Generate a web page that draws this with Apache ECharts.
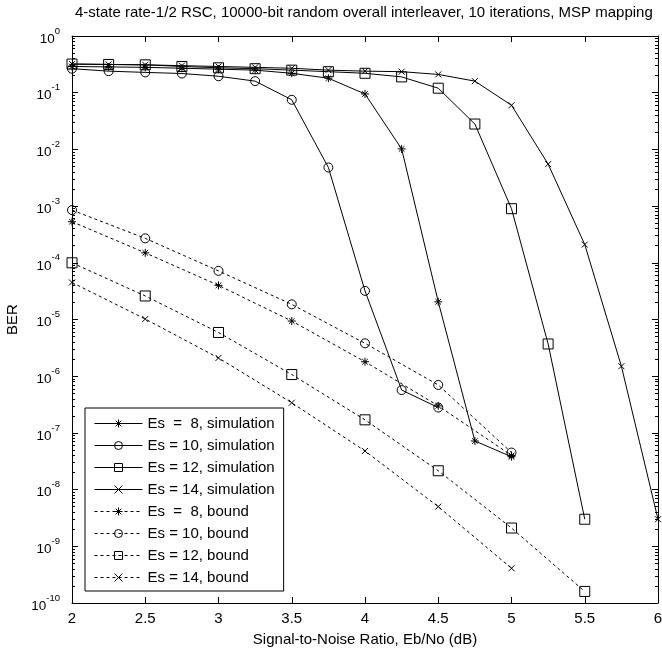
<!DOCTYPE html>
<html>
<head>
<meta charset="utf-8">
<script src="https://cdn.jsdelivr.net/npm/echarts@6/dist/echarts.min.js"></script>
<style>
  html, body { margin: 0; padding: 0; background: #fff; }
  #chart { width: 662px; height: 648px; }
</style>
</head>
<body>
<div id="chart"></div>
<script>
// Eb/No points (dB)
const snrSim8 = [2, 2.25, 2.5, 2.75, 3, 3.25, 3.5, 3.75, 4, 4.25, 4.5, 4.75, 5];
const snrSim10 = [2, 2.25, 2.5, 2.75, 3, 3.25, 3.5, 3.75, 4, 4.25, 4.5];
const snrSim12 = [2, 2.25, 2.5, 2.75, 3, 3.25, 3.5, 3.75, 4, 4.25, 4.5, 4.75, 5, 5.25, 5.5];
const snrSim14 = [2, 2.25, 2.5, 2.75, 3, 3.25, 3.5, 3.75, 4, 4.25, 4.5, 4.75, 5, 5.25, 5.5, 5.75, 6];
const snrBound = [2, 2.5, 3, 3.5, 4, 4.5, 5, 5.5];

// BER, simulation
const berSim8 = [0.29, 0.285, 0.28, 0.27, 0.26, 0.25, 0.22, 0.18, 0.095, 0.0102, 2.05e-5, 7.2e-8, 3.8e-8];
const berSim10 = [0.265, 0.24, 0.228, 0.218, 0.195, 0.16, 0.075, 4.8e-3, 3.2e-5, 5.7e-7, 2.8e-7];
const berSim12 = [0.32, 0.315, 0.31, 0.29, 0.275, 0.265, 0.25, 0.235, 0.22, 0.19, 0.12, 0.028, 9e-4, 3.7e-6, 3e-9];
const berSim14 = [0.32, 0.315, 0.31, 0.3, 0.29, 0.28, 0.27, 0.25, 0.24, 0.235, 0.21, 0.16, 0.06, 0.0055, 2.1e-4, 1.5e-6, 3e-9];

// BER, union bound
const berBound8 = [5.3e-4, 1.5e-4, 4e-5, 9.4e-6, 1.8e-6, 3e-7, 4e-8];
const berBound10 = [8.5e-4, 2.7e-4, 7.2e-5, 1.85e-5, 3.8e-6, 7e-7, 4.5e-8];
const berBound12 = [1e-4, 2.6e-5, 5.9e-6, 1.07e-6, 1.7e-7, 2.15e-8, 2.1e-9, 1.6e-10];
const berBound14 = [4.5e-5, 1.02e-5, 2.1e-6, 3.4e-7, 4.8e-8, 5e-9, 4.1e-10];

const seriesNames = [
  "Es  =  8, simulation",
  "Es = 10, simulation",
  "Es = 12, simulation",
  "Es = 14, simulation",
  "Es  =  8, bound",
  "Es = 10, bound",
  "Es = 12, bound",
  "Es = 14, bound",
];

const FONT = "'Liberation Sans', Arial, sans-serif";

// marker shapes (stroked, no fill)
const asterisk = "path://M0,5L10,5M5,0L5,10M1.5,1.5L8.5,8.5M1.5,8.5L8.5,1.5";
const cross = "path://M0,0L10,10M0,10L10,0";

// minor tick positions 2..9 x 10^k for the log axis
const minorTickValues = [];
for (let k = -10; k < 0; k++) {
  for (let m = 2; m <= 9; m++) minorTickValues.push(m * Math.pow(10, k));
}

function zip(xs, ys) {
  return ys.map((y, i) => [xs[i], y]);
}

function makeSeries(name, xs, ys, symbol, size, dashed) {
  return {
    name: name,
    type: "line",
    data: zip(xs, ys),
    symbol: symbol,
    symbolSize: size,
    showAllSymbol: true,
    animation: false,
    lineStyle: { color: "#000", width: 1, type: dashed ? [3, 3] : "solid" },
    itemStyle: { color: "none", borderColor: "#000", borderWidth: 1 },
    emphasis: { disabled: true },
  };
}

const chart = echarts.init(document.getElementById("chart"));

const logAxisBase = {
  type: "log",
  logBase: 10,
  min: 1e-10,
  max: 1,
  interval: 1,
  axisLine: { show: true, lineStyle: { color: "#000", width: 1 } },
  axisTick: { show: true, inside: true, length: 6, lineStyle: { color: "#000" } },
  splitLine: { show: false },
};

function minorAxis(pos) {
  return {
    type: "log",
    logBase: 10,
    min: 1e-10,
    max: 1,
    position: pos,
    axisLine: { show: false },
    axisLabel: { show: false },
    splitLine: { show: false },
    axisTick: {
      show: true,
      inside: true,
      length: 3,
      customValues: minorTickValues,
      lineStyle: { color: "#000" },
    },
  };
}

const option = {
  backgroundColor: "#fff",
  animation: false,
  textStyle: { fontFamily: FONT },
  title: {
    text: "4-state rate-1/2 RSC, 10000-bit random overall interleaver, 10 iterations, MSP mapping",
    left: 70,
    top: 0,
    padding: 5,
    textStyle: { fontFamily: FONT, fontSize: 15, fontWeight: "normal", color: "#000" },
  },
  grid: { left: 72, right: 4, top: 36, bottom: 45, containLabel: false, outerBoundsMode: "none" },
  legend: {
    orient: "vertical",
    left: 85,
    top: 408,
    padding: [7, 9, 5, 9],
    itemWidth: 48,
    itemHeight: 10,
    itemGap: 5,
    backgroundColor: "#fff",
    borderColor: "#000",
    borderWidth: 1,
    borderRadius: 0,
    lineStyle: { width: 1 },
    itemStyle: { borderWidth: 1 },
    textStyle: { fontFamily: FONT, fontSize: 15, color: "#000", lineHeight: 17 },
    data: seriesNames,
  },
  xAxis: [
    {
      type: "value",
      min: 2,
      max: 6,
      interval: 0.5,
      name: "Signal-to-Noise Ratio, Eb/No (dB)",
      nameLocation: "middle",
      nameGap: 29,
      nameTextStyle: { fontFamily: FONT, fontSize: 15, color: "#000" },
      axisLine: { lineStyle: { color: "#000", width: 1 } },
      axisTick: { inside: true, length: 6, lineStyle: { color: "#000" } },
      axisLabel: { fontFamily: FONT, fontSize: 15, color: "#000", margin: 8 },
      splitLine: { show: false },
    },
    {
      type: "value",
      position: "top",
      min: 2,
      max: 6,
      interval: 0.5,
      axisLine: { lineStyle: { color: "#000", width: 1 } },
      axisTick: { inside: true, length: 6, lineStyle: { color: "#000" } },
      axisLabel: { show: false },
      splitLine: { show: false },
    },
  ],
  yAxis: [
    Object.assign({}, logAxisBase, {
      name: "BER",
      nameLocation: "middle",
      nameGap: 42,
      nameTextStyle: { fontFamily: FONT, fontSize: 15, color: "#000" },
      axisLabel: {
        margin: 12,
        formatter: function (v) {
          return "{b|10}{s|" + Math.round(Math.log10(v)) + "}";
        },
        rich: {
          b: { fontFamily: FONT, fontSize: 13.5, color: "#000", lineHeight: 20, verticalAlign: "bottom" },
          s: { fontFamily: FONT, fontSize: 9.5, color: "#000", lineHeight: 20, verticalAlign: "top" },
        },
      },
    }),
    Object.assign({}, logAxisBase, {
      position: "right",
      axisLabel: { show: false },
    }),
    minorAxis("left"),
    minorAxis("right"),
  ],
  series: [
    makeSeries(seriesNames[0], snrSim8, berSim8, asterisk, 8, false),
    makeSeries(seriesNames[1], snrSim10, berSim10, "circle", 9, false),
    makeSeries(seriesNames[2], snrSim12, berSim12, "rect", 10, false),
    makeSeries(seriesNames[3], snrSim14, berSim14, cross, 6, false),
    makeSeries(seriesNames[4], snrBound, berBound8, asterisk, 8, true),
    makeSeries(seriesNames[5], snrBound, berBound10, "circle", 9, true),
    makeSeries(seriesNames[6], snrBound, berBound12, "rect", 10, true),
    makeSeries(seriesNames[7], snrBound, berBound14, cross, 6, true),
  ],
};

chart.setOption(option);
</script>
</body>
</html>
